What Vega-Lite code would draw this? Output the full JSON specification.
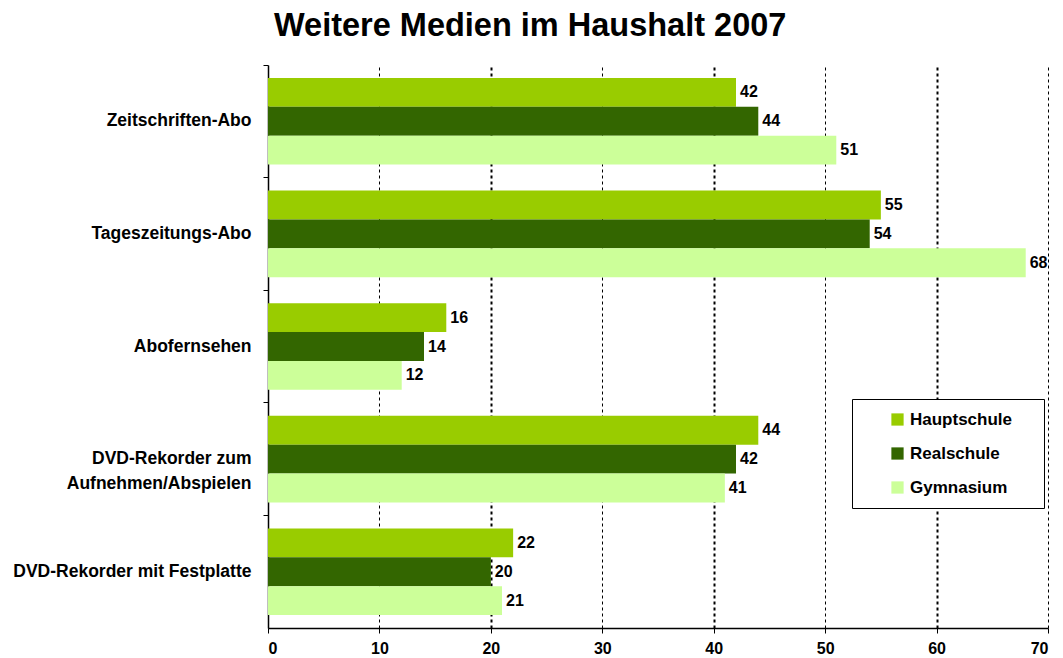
{
  "$schema": "https://vega.github.io/schema/vega-lite/v6.json",
  "autosize": {"type": "none"},
  "width": 780,
  "height": 563,
  "padding": {"left": 268, "top": 65, "right": 15, "bottom": 30},
  "background": "white",
  "title": {
    "text": "Weitere Medien im Haushalt 2007",
    "font": "Liberation Sans",
    "fontSize": 32.5,
    "fontWeight": "bold",
    "color": "black",
    "anchor": "start",
    "frame": "group",
    "dx": 6,
    "offset": 22
  },
  "data": {
    "values": [
      {"medium": "Zeitschriften-Abo", "schule": "Hauptschule", "wert": 42},
      {"medium": "Zeitschriften-Abo", "schule": "Realschule", "wert": 44},
      {"medium": "Zeitschriften-Abo", "schule": "Gymnasium", "wert": 51},
      {"medium": "Tageszeitungs-Abo", "schule": "Hauptschule", "wert": 55},
      {"medium": "Tageszeitungs-Abo", "schule": "Realschule", "wert": 54},
      {"medium": "Tageszeitungs-Abo", "schule": "Gymnasium", "wert": 68},
      {"medium": "Abofernsehen", "schule": "Hauptschule", "wert": 16},
      {"medium": "Abofernsehen", "schule": "Realschule", "wert": 14},
      {"medium": "Abofernsehen", "schule": "Gymnasium", "wert": 12},
      {"medium": "DVD-Rekorder zum|Aufnehmen/Abspielen", "schule": "Hauptschule", "wert": 44},
      {"medium": "DVD-Rekorder zum|Aufnehmen/Abspielen", "schule": "Realschule", "wert": 42},
      {"medium": "DVD-Rekorder zum|Aufnehmen/Abspielen", "schule": "Gymnasium", "wert": 41},
      {"medium": "DVD-Rekorder mit Festplatte", "schule": "Hauptschule", "wert": 22},
      {"medium": "DVD-Rekorder mit Festplatte", "schule": "Realschule", "wert": 20},
      {"medium": "DVD-Rekorder mit Festplatte", "schule": "Gymnasium", "wert": 21}
    ]
  },
  "encoding": {
    "y": {
      "field": "medium",
      "type": "nominal",
      "sort": null,
      "title": null,
      "scale": {"paddingInner": 0, "paddingOuter": 0},
      "axis": {
        "labelExpr": "split(datum.label, '|')",
        "labelFont": "Liberation Sans",
        "labelFontSize": 17.5,
        "labelFontWeight": "bold",
        "labelColor": "black",
        "labelPadding": 12,
        "labelLineHeight": 25,
        "labelLimit": 300,
        "bandPosition": 0,
        "ticks": true,
        "tickColor": "black",
        "tickSize": 5,
        "domainColor": "black",
        "domainWidth": 1.5,
        "grid": false
      }
    },
    "yOffset": {
      "field": "schule",
      "type": "nominal",
      "sort": ["Hauptschule", "Realschule", "Gymnasium"],
      "scale": {"paddingInner": 0, "paddingOuter": 0.45}
    },
    "x": {
      "field": "wert",
      "type": "quantitative",
      "title": null,
      "scale": {"domain": [0, 70], "nice": false},
      "axis": {
        "values": [0, 10, 20, 30, 40, 50, 60, 70],
        "labelFont": "Liberation Sans",
        "labelFontSize": 16,
        "labelFontWeight": "bold",
        "labelColor": "black",
        "labelPadding": 7,
        "tickColor": "black",
        "tickSize": 5,
        "domainColor": "black",
        "domainWidth": 1.5,
        "grid": true,
        "gridColor": "black",
        "gridDash": [3, 3],
        "gridWidth": {"condition": {"test": "datum.value % 20 === 0 && datum.value > 0", "value": 2}, "value": 1}
      }
    }
  },
  "layer": [
    {
      "mark": {"type": "bar"},
      "encoding": {
        "color": {
          "field": "schule",
          "type": "nominal",
          "sort": ["Hauptschule", "Realschule", "Gymnasium"],
          "scale": {
            "domain": ["Hauptschule", "Realschule", "Gymnasium"],
            "range": ["#99CC00", "#336600", "#CCFF99"]
          },
          "legend": {
            "title": "\u00a0",
            "titleOrient": "right",
            "titleFontSize": 4,
            "titlePadding": 20,
            "orient": "none",
            "legendX": 584,
            "legendY": 334,
            "symbolType": "square",
            "symbolSize": 150,
            "symbolStrokeWidth": 0,
            "labelFont": "Liberation Sans",
            "labelFontSize": 17,
            "labelFontWeight": "bold",
            "labelColor": "black",
            "labelLimit": 300,
            "rowPadding": 16,
            "padding": 12,
            "strokeColor": "black",
            "fillColor": "white",
            "labelOffset": 4,
            "symbolOffset": 25,
            "direction": "vertical"
          }
        }
      }
    },
    {
      "mark": {"type": "text", "align": "left", "baseline": "middle", "dx": 4, "font": "Liberation Sans", "fontSize": 16, "fontWeight": "bold", "color": "black"},
      "encoding": {
        "text": {"field": "wert", "type": "quantitative"}
      }
    }
  ],
  "config": {"view": {"stroke": null}}
}
